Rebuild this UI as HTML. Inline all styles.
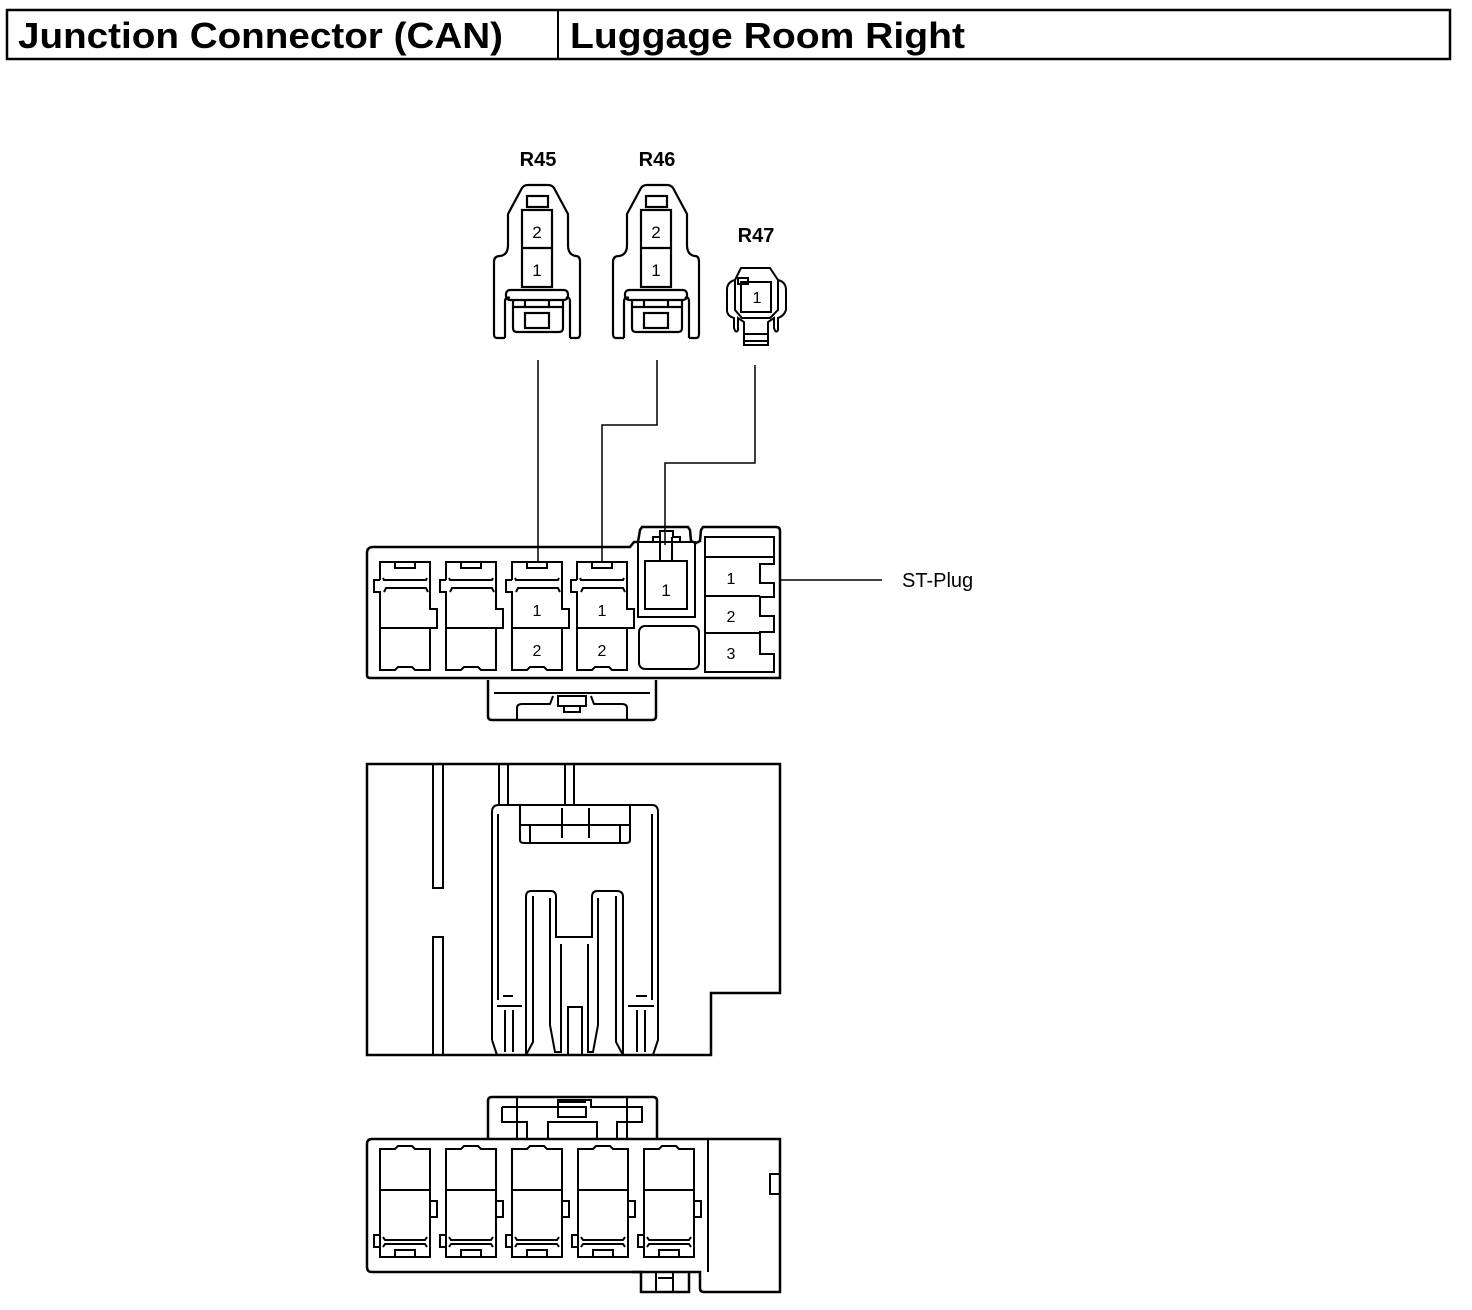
<!DOCTYPE html>
<html><head><meta charset="utf-8"><style>
html,body{margin:0;padding:0;background:#fff;}
svg{display:block;}
</style></head><body>
<svg width="1472" height="1310" viewBox="0 0 1472 1310" xmlns="http://www.w3.org/2000/svg" font-family="Liberation Sans, Arial, sans-serif">
<defs>
<g id="cavA" fill="none" stroke="#000" stroke-width="2">
 <path d="M0,18 L0,0 L50,0 L50,18"/>
 <rect x="15" y="0" width="20" height="6"/>
 <path d="M3,16 L4,18 L46,18 L47,16"/>
 <path d="M0,18 L-6,18 L-6,30 L0,30 L0,108 L15,108 L18,105 L32,105 L35,108 L50,108 L50,66 L57,66 L57,47 L50,47 L50,30 M50,18 L50,30"/>
 <path d="M4,30 L6,26 L46,26 L48,30"/>
 <line x1="0" y1="66" x2="50" y2="66"/>
</g>
<g id="cavB" fill="none" stroke="#000" stroke-width="2">
 <path d="M0,0 L15,0 L18,-3 L32,-3 L35,0 L50,0 L50,108 L0,108 Z"/>
 <line x1="0" y1="41" x2="50" y2="41"/>
 <path d="M50,52 L57,52 L57,68 L50,68"/>
 <path d="M0,86 L-6,86 L-6,98 L0,98"/>
 <path d="M3,88 L5,91 L45,91 L47,88"/>
 <path d="M3,98 L5,95 L45,95 L47,98"/>
 <rect x="15" y="101" width="20" height="7"/>
</g>
<g id="plug2" fill="none" stroke="#000" stroke-width="2.2">
 <path d="M505,338 L497,338 Q494,338 494,334 L494,262 Q494,256 500,256 Q508,255 508,245 L508,214 L522,188 Q524,185 528,185 L548,185 Q552,185 554,188 L568,214 L568,245 Q568,255 576,256 Q580,256 580,262 L580,334 Q580,338 577,338 L570,338"/>
 <path d="M505,338 L505,302 Q505,296 510,298 M570,338 L570,302 Q570,296 566,298"/>
 <rect x="506" y="290" width="62" height="10" rx="4"/>
 <path d="M513,300 L513,328 Q513,332 517,332 L559,332 Q563,332 563,328 L563,300"/>
 <line x1="513" y1="307" x2="563" y2="307"/>
 <line x1="525" y1="300" x2="525" y2="307"/><line x1="549" y1="300" x2="549" y2="307"/>
 <rect x="525" y="313" width="24" height="15"/>
 <rect x="527" y="196" width="21" height="11"/>
 <rect x="522" y="210" width="30" height="77"/>
 <line x1="522" y1="248" x2="552" y2="248"/>
</g>
</defs>

<!-- header -->
<rect x="7" y="10" width="1443" height="49" fill="none" stroke="#000" stroke-width="2.5"/>
<line x1="558" y1="10" x2="558" y2="59" stroke="#000" stroke-width="2"/>
<text x="18" y="48" font-size="36" font-weight="bold" textLength="485" lengthAdjust="spacingAndGlyphs">Junction Connector (CAN)</text>
<text x="570" y="48" font-size="36" font-weight="bold" textLength="395" lengthAdjust="spacingAndGlyphs">Luggage Room Right</text>

<!-- top plugs -->
<text x="538" y="166" font-size="20" font-weight="bold" text-anchor="middle">R45</text>
<text x="657" y="166" font-size="20" font-weight="bold" text-anchor="middle">R46</text>
<text x="756" y="242" font-size="20" font-weight="bold" text-anchor="middle">R47</text>
<use href="#plug2"/>
<use href="#plug2" transform="translate(119,0)"/>
<text x="537" y="238" font-size="17" text-anchor="middle">2</text>
<text x="537" y="276" font-size="17" text-anchor="middle">1</text>
<text x="656" y="238" font-size="17" text-anchor="middle">2</text>
<text x="656" y="276" font-size="17" text-anchor="middle">1</text>

<!-- R47 -->
<g fill="none" stroke="#000" stroke-width="2">
 <path d="M741,268 L770,268 L778,280 Q786,282 786,290 L786,310 Q784,316 778,318 L778,330 Q776,334 774,328 L774,318 L768,322 L768,345 L744,345 L744,322 L738,318 L738,330 Q736,334 734,328 L734,318 Q727,316 727,310 L727,290 Q727,282 735,280 Z"/>
 <path d="M735,280 L735,310 L742,318 L770,318 L778,310 L778,280"/>
 <rect x="741" y="282" width="30" height="30"/>
 <rect x="738" y="278" width="10" height="6"/>
 <line x1="744" y1="334" x2="768" y2="334"/>
 <line x1="744" y1="341" x2="768" y2="341"/>
</g>
<text x="757" y="303" font-size="16" text-anchor="middle">1</text>

<!-- wires -->
<g fill="none" stroke="#000" stroke-width="1.5">
 <path d="M538,360 L538,563"/>
 <path d="M657,360 L657,425 L602,425 L602,563"/>
 <path d="M755,365 L755,463 L665,463 L665,545"/>
 <path d="M780,580 L882,580"/>
</g>
<text x="902" y="587" font-size="20">ST-Plug</text>

<!-- main connector (front) -->
<g fill="none" stroke="#000" stroke-width="2.5">
 <path d="M373,547 L630,547 L634,542 L638,542 L640,530 L642,527 L688,527 L690,530 L691,541 L696,543 L700,541 L701,530 L703,527 L776,527 Q780,527 780,531 L780,678 L370,678 Q367,678 367,675 L367,553 Q367,547 373,547 Z"/>
 <path d="M488,680 L488,716 Q488,720 492,720 L652,720 Q656,720 656,716 L656,680"/>
</g>
<g fill="none" stroke="#000" stroke-width="2">
 <line x1="494" y1="693" x2="650" y2="693"/>
 <path d="M517,720 L517,708 Q517,704 522,704 L550,704 L553,696"/>
 <path d="M627,720 L627,708 Q627,704 622,704 L594,704 L591,696"/>
 <rect x="558" y="696" width="28" height="10"/><rect x="564" y="706" width="16" height="6"/>
 <path d="M638,542 L638,617 L695,617 L695,542 Z"/>
 <path d="M653,542 L653,537 L660,537 L660,531 L673,531 L673,537 L680,537 L680,542"/>
 <path d="M645,561 L645,609 L687,609 L687,561 Z"/>
 <line x1="660" y1="537" x2="660" y2="561"/><line x1="672" y1="537" x2="672" y2="561"/>
 <rect x="639" y="626" width="60" height="43" rx="6"/>
 <path d="M705,537 L774,537 L774,557 L705,557 Z"/>
 <path d="M705,557 L705,672 L774,672 L774,654 L760,654 L760,632 L774,632 L774,616 L760,616 L760,597 L774,597 L774,583 L760,583 L760,564 L774,564 L774,557"/>
 <line x1="705" y1="596" x2="760" y2="596"/>
 <line x1="705" y1="633" x2="760" y2="633"/>
</g>
<text x="666" y="596" font-size="17" text-anchor="middle">1</text>
<text x="731" y="584" font-size="16" text-anchor="middle">1</text>
<text x="731" y="622" font-size="16" text-anchor="middle">2</text>
<text x="731" y="659" font-size="16" text-anchor="middle">3</text>
<use href="#cavA" transform="translate(380,562)"/>
<use href="#cavA" transform="translate(446,562)"/>
<use href="#cavA" transform="translate(512,562)"/>
<use href="#cavA" transform="translate(577,562)"/>
<text x="537" y="616" font-size="16" text-anchor="middle">1</text>
<text x="537" y="656" font-size="16" text-anchor="middle">2</text>
<text x="602" y="616" font-size="16" text-anchor="middle">1</text>
<text x="602" y="656" font-size="16" text-anchor="middle">2</text>

<!-- middle connector (top view) -->
<g fill="none" stroke="#000" stroke-width="2.5">
 <path d="M367,764 L780,764 L780,993 L711,993 L711,1055 L367,1055 Z"/>
</g>
<g fill="none" stroke="#000" stroke-width="2">
 <path d="M433,764 L433,888 L443,888 L443,764"/>
 <path d="M433,1055 L433,937 L443,937 L443,1055"/>
 <line x1="499" y1="764" x2="499" y2="805"/><line x1="508" y1="764" x2="508" y2="805"/>
 <line x1="565" y1="764" x2="565" y2="805"/><line x1="574" y1="764" x2="574" y2="805"/>
 <path d="M492,1040 L492,812 Q492,805 499,805 L652,805 Q658,805 658,812 L658,1040 L653,1055 M492,1040 L497,1055"/>
 <path d="M520,805 L520,840 Q520,843 524,843 L626,843 Q630,843 630,840 L630,805"/>
 <line x1="520" y1="825" x2="630" y2="825"/>
 <line x1="530" y1="825" x2="530" y2="843"/><line x1="620" y1="825" x2="620" y2="843"/>
 <line x1="562" y1="808" x2="562" y2="838"/><line x1="589" y1="808" x2="589" y2="838"/>
 <line x1="498" y1="814" x2="498" y2="1000"/><line x1="652" y1="814" x2="652" y2="1000"/>
 <path d="M526,1055 L526,897 Q526,891 531,891 L551,891 Q556,891 556,897 L556,937 L592,937 L592,897 Q592,891 597,891 L617,891 Q623,891 623,897 L623,1055"/>
 <path d="M533,896 L533,1042 L526,1055 M550,898 L550,1025 L555,1052 L561,1052 L561,944"/>
 <path d="M616,896 L616,1042 L623,1055 M598,898 L598,1025 L593,1052 L588,1052 L588,944"/>
 <rect x="568" y="1007" width="14" height="48"/>
 <line x1="497" y1="1006" x2="522" y2="1006"/><line x1="628" y1="1006" x2="654" y2="1006"/>
 <line x1="503" y1="996" x2="513" y2="996"/><line x1="636" y1="996" x2="647" y2="996"/>
 <line x1="505" y1="1010" x2="505" y2="1052"/><line x1="513" y1="1010" x2="513" y2="1052"/>
 <line x1="637" y1="1010" x2="637" y2="1052"/><line x1="645" y1="1010" x2="645" y2="1052"/>
</g>

<!-- bottom connector (rear) -->
<g fill="none" stroke="#000" stroke-width="2.5">
 <path d="M488,1139 L488,1101 Q488,1097 492,1097 L653,1097 Q657,1097 657,1101 L657,1139"/>
 <path d="M372,1139 L780,1139 L780,1292 L704,1292 Q700,1292 700,1288 L700,1272 L372,1272 Q367,1272 367,1267 L367,1144 Q367,1139 372,1139 Z"/>
 <path d="M632,1272 L641,1272 L641,1292 L689,1292 L689,1272"/>
</g>
<g fill="none" stroke="#000" stroke-width="2">
 <path d="M517,1097 L517,1139 M627,1097 L627,1139"/>
 <path d="M502,1107 L558,1107 L558,1100 L591,1100 L591,1107 L642,1107 L642,1122 L617,1122 L617,1139 M502,1107 L502,1122 L527,1122 L527,1139"/>
 <path d="M548,1139 L548,1122 L597,1122 L597,1139"/>
 <rect x="558" y="1107" width="28" height="10"/>
 <line x1="558" y1="1102" x2="586" y2="1102"/>
 <line x1="708" y1="1139" x2="708" y2="1272"/>
 <rect x="770" y="1174" width="10" height="20"/>
 <line x1="656" y1="1272" x2="656" y2="1292"/><line x1="673" y1="1272" x2="673" y2="1292"/>
 <line x1="658" y1="1278" x2="672" y2="1278"/>
</g>
<use href="#cavB" transform="translate(380,1149)"/>
<use href="#cavB" transform="translate(446,1149)"/>
<use href="#cavB" transform="translate(512,1149)"/>
<use href="#cavB" transform="translate(578,1149)"/>
<use href="#cavB" transform="translate(644,1149)"/>
</svg>
</body></html>
